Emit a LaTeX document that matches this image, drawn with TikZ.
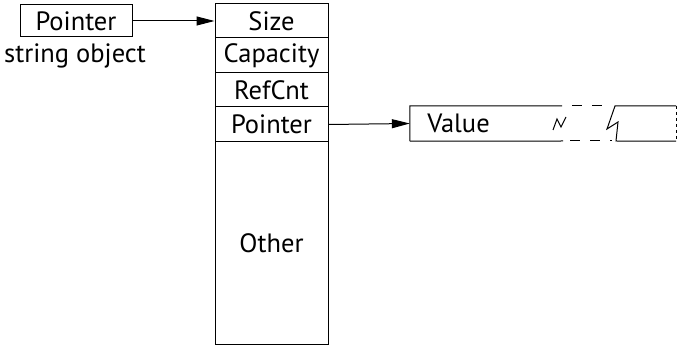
\documentclass[tikz,border=0pt]{standalone}
\usepackage{fontspec}
\setmainfont{PT Sans}
\usetikzlibrary{arrows.meta}
\begin{document}
\begin{tikzpicture}[x=1pt,y=-1pt,
  lbl/.style={font=\fontsize{26.5}{30}\selectfont},
  cell/.style={draw,line width=1pt,inner sep=0pt,minimum width=113pt,lbl},
  conn/.style={line width=1pt,-{Triangle[length=18pt,width=9pt]}},
  edge/.style={line width=1pt}]
\useasboundingbox (0,0) rectangle (678,347);
% string object
\node[cell,minimum width=112pt,minimum height=32pt] (sp) at (76,21) {Pointer};
\node[lbl,anchor=base] (slabel) at (75,63) {string object};
% column
\node[cell,minimum height=34pt] (size) at (271.5,21) {Size};
\node[cell,minimum height=35pt] (cap) at (271.5,55.5) {Capacity};
\node[cell,minimum height=34pt] (ref) at (271.5,90) {RefCnt};
\node[cell,minimum height=35pt] (p2) at (271.5,124.5) {Pointer};
\node[cell,minimum height=203pt] (other) at (271.5,243.5) {Other};
% value box
\node[lbl,inner sep=0pt,minimum width=266pt,minimum height=35pt] (val) at (543,123.5) {};
\node[lbl,anchor=west] (vtext) at ([xshift=14pt]val.west) {Value};
\draw[edge] (val.south west) -- (val.north west) -- (562,106);
\draw[edge] (val.south west) -- (563,141);
\draw[edge,dash pattern=on 10pt off 10pt] (572,106) -- (610,106);
\draw[edge,dash pattern=on 10pt off 10pt] (570,141) -- (612,141);
\draw[edge] (val.north east) -- (615,106) -- (607,129) -- (618,122) -- (616,141) -- (val.south east);
\draw[line width=0.5pt,dashed] (val.north east) -- (val.south east);
\draw[edge] (553,130) -- (557,119) -- (561,127) -- (566,117);
% connectors
\draw[conn] (sp.east) -- (size.west);
\draw[conn] (p2.east) -- (val.west);
\end{tikzpicture}
\end{document}
